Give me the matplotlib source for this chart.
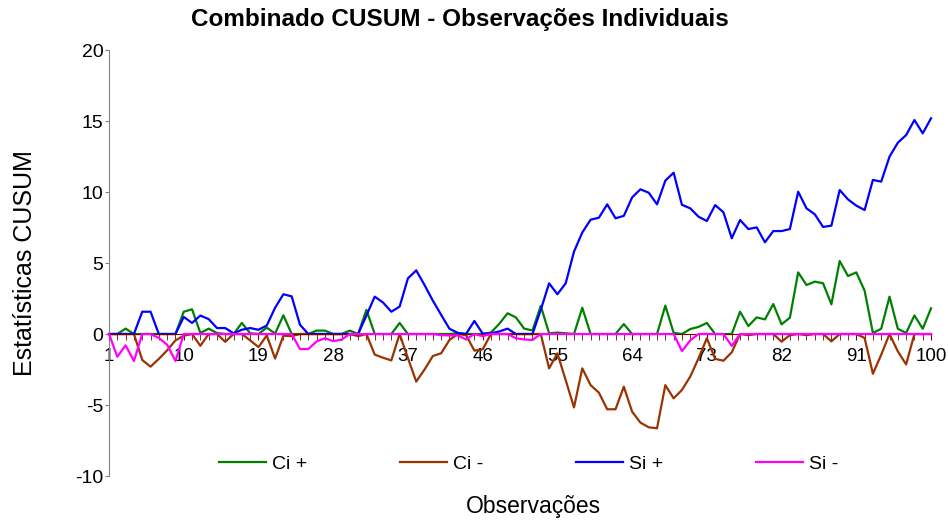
import numpy as np
import matplotlib
matplotlib.use("Agg")
import matplotlib.pyplot as plt
from matplotlib.ticker import FixedLocator, MultipleLocator

plt.rcParams['font.family'] = ['Liberation Sans', 'DejaVu Sans']
plt.rcParams['axes.unicode_minus'] = False

# observation numbers 1..100
obs = list(range(1, 101))

ci_plus = [0, 0, 0.38, 0, 0, 0, 0, 0, 0, 1.57,
           1.74, 0.07, 0.38, 0.07, 0, 0, 0.78, 0.05, 0, 0.45,
           0.03, 1.32, 0, 0, 0, 0.24, 0.24, 0, 0, 0.24,
           0, 1.7, 0, 0, 0, 0.78, 0, 0, 0, 0,
           0, 0, 0.05, 0, 0, 0, 0.1, 0.72, 1.46, 1.17,
           0.38, 0.25, 1.98, 0.05, 0.1, 0.05, 0, 1.85, 0, 0,
           0, 0, 0.7, 0, 0, 0, 0, 2.0, 0.08, 0,
           0.35, 0.5, 0.78, 0, 0, 0, 1.57, 0.56, 1.17, 1.03,
           2.11, 0.68, 1.15, 4.34, 3.45, 3.69, 3.57, 2.09, 5.14, 4.08,
           4.34, 3.05, 0.07, 0.37, 2.63, 0.37, 0.07, 1.31, 0.37, 1.81]

ci_minus = [0, 0, 0, 0, -1.83, -2.3, -1.75, -1.15, -0.45, -0.12,
            0, -0.83, 0, 0, -0.55, 0, 0, -0.45, -0.92, -0.1,
            -1.73, -0.12, -0.15, 0, 0, 0, 0, 0, 0, 0,
            -0.15, 0, -1.45, -1.67, -1.86, 0, -1.7, -3.35, -2.5, -1.55,
            -1.36, -0.42, 0, -0.08, -1.17, -1.08, 0, 0, 0, 0,
            0, 0, 0, -2.42, -1.36, -3.25, -5.17, -2.42, -3.6, -4.13,
            -5.3, -5.3, -3.71, -5.47, -6.24, -6.57, -6.64, -3.6, -4.53, -3.94,
            -3.0, -1.71, -0.3, -1.75, -1.88, -1.29, 0, -0.08, 0, 0,
            0, -0.54, -0.08, 0, -0.08, 0, 0, -0.52, 0, 0,
            0, -0.28, -2.8, -1.46, 0, -1.22, -2.14, 0, 0, 0]

si_plus = [0, 0, 0, 0, 1.57, 1.57, 0, 0, 0, 1.2,
           0.78, 1.3, 1.05, 0.42, 0.42, 0.05, 0.3, 0.42, 0.3, 0.6,
           1.85, 2.8, 2.65, 0.65, 0, 0, 0, 0, 0, 0,
           0, 1.3, 2.63, 2.22, 1.57, 1.93, 3.92, 4.48, 3.45, 2.35,
           1.35, 0.37, 0.08, 0, 0.92, 0.03, 0.05, 0.18, 0.38, 0,
           0, 0, 1.7, 3.57, 2.8, 3.57, 5.8, 7.15, 8.05, 8.19,
           9.13, 8.15, 8.32, 9.62, 10.19, 9.95, 9.13, 10.8, 11.36, 9.1,
           8.85, 8.26, 7.96, 9.08, 8.57, 6.74, 8.03, 7.39, 7.51, 6.46,
           7.25, 7.25, 7.39, 10.02, 8.85, 8.43, 7.54, 7.63, 10.14, 9.48,
           9.04, 8.73, 10.85, 10.73, 12.49, 13.47, 14.01, 15.07, 14.13, 15.19]

si_minus = [0, -1.6, -0.8, -1.9, 0, 0, -0.28, -0.75, -1.9, 0,
            0, 0, 0, 0, 0, 0, 0, 0, 0, 0,
            0, 0, 0, -1.06, -1.06, -0.52, -0.3, -0.5, -0.4, 0,
            0, 0, 0, 0, 0, 0, 0, 0, 0, 0,
            -0.08, -0.1, -0.1, -0.38, 0, -0.15, 0, 0, 0, -0.3,
            -0.38, -0.42, 0, 0, 0, 0, 0, 0, 0, 0,
            0, 0, 0, 0, 0, 0, 0, 0, 0, -1.2,
            -0.45, 0, 0, 0, 0, -0.84, 0, 0, 0, 0,
            0, 0, 0, 0, 0, 0, 0, 0, 0, 0,
            0, 0, 0, 0, 0, 0, 0, 0, 0, 0]

x_labels = [1, 10, 19, 28, 37, 46, 55, 64, 73, 82, 91, 100]

fig = plt.figure(figsize=(9.48, 5.22), dpi=100)
ax = fig.add_axes([0.1150, 0.0881, 0.8671, 0.8161])

ax.plot(obs, ci_plus, color='#008000', lw=1.6, label='Ci +', clip_on=False)
ax.plot(obs, ci_minus, color='#993300', lw=1.6, label='Ci -', clip_on=False)
ax.plot(obs, si_plus, color='#0000FF', lw=1.6, label='Si +', clip_on=False)
ax.plot(obs, si_minus, color='#FF00FF', lw=1.6, label='Si -', clip_on=False, zorder=3)

ax.set_xlim(1, 100)
ax.set_ylim(-10, 20)
ax.set_yticks([-10, -5, 0, 5, 10, 15, 20])

# category axis crossing at zero
ax.spines['top'].set_visible(False)
ax.spines['right'].set_visible(False)
ax.spines['bottom'].set_position(('data', 0))
ax.spines['bottom'].set_color('#800000')
ax.spines['left'].set_color('#808080')
ax.xaxis.set_major_locator(FixedLocator(x_labels))
ax.xaxis.set_minor_locator(MultipleLocator(1))
ax.tick_params(axis='x', which='both', direction='out', length=4, color='#800000',
               labelsize=13.5, pad=6)
ax.tick_params(axis='y', direction='out', length=3, color='#808080', labelsize=14, pad=1)

fig.text(0.485, 0.962, 'Combinado CUSUM - Observações Individuais', ha='center', va='center',
         fontsize=17.5, fontweight='bold')
fig.text(0.026, 0.497, 'Estatísticas CUSUM', rotation=90, ha='center', va='center', fontsize=18)
fig.text(0.563, 0.029, 'Observações', ha='center', va='center', fontsize=16.5)

fig.legend(loc='center', bbox_to_anchor=(0.5575, 0.111), ncol=4, frameon=False,
           fontsize=14, handlelength=2.4, handletextpad=0.3, columnspacing=4.8)

fig.savefig('out.png', dpi=100)
